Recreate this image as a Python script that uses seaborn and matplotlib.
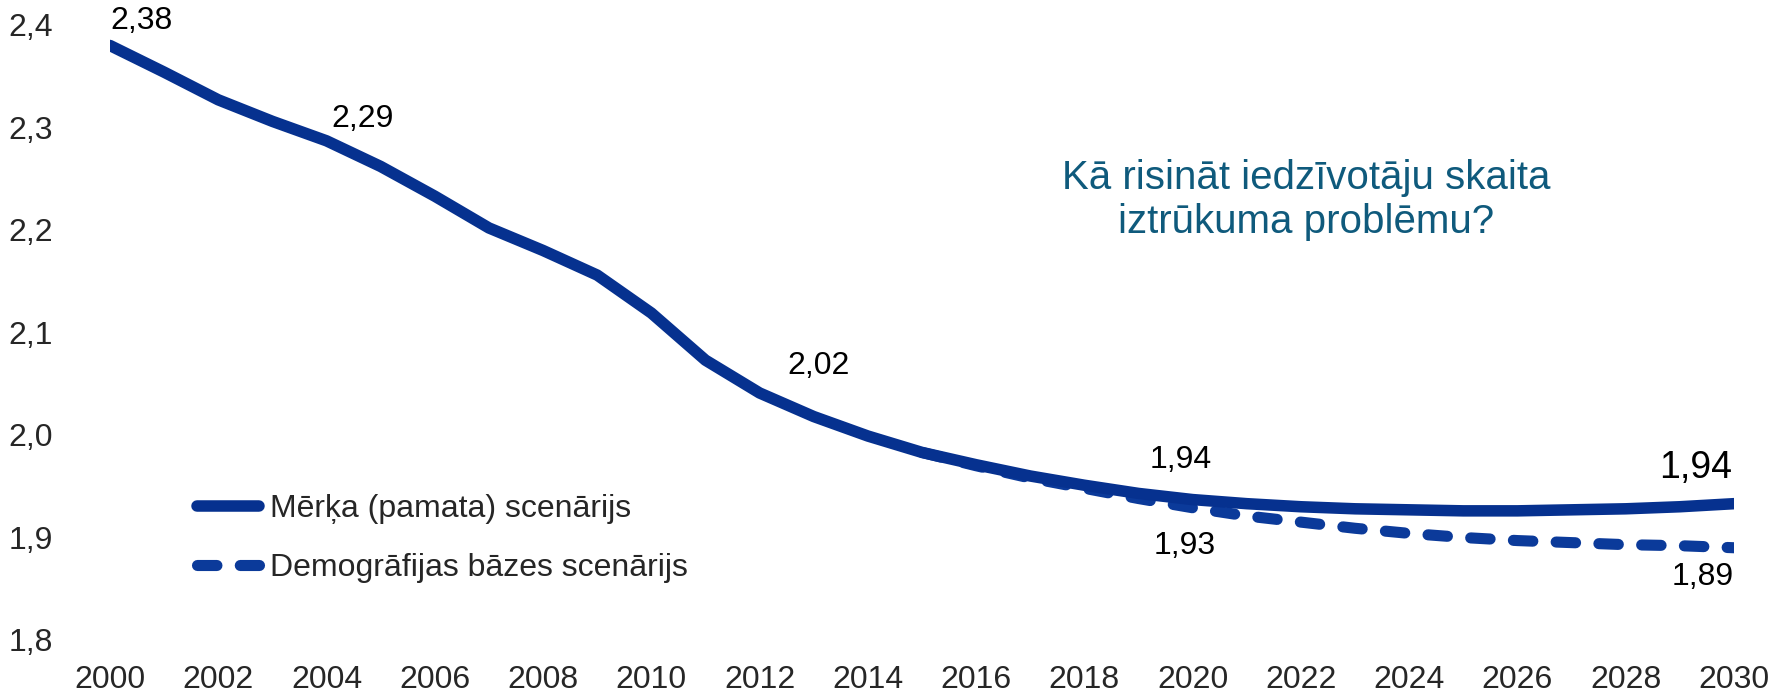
import matplotlib
matplotlib.use("Agg")
import matplotlib.pyplot as plt
import seaborn as sns
import numpy as np

# ---- data ----
years = list(range(2000, 2031))
target_scenario = [2.380, 2.354, 2.327, 2.306, 2.287, 2.262, 2.233, 2.202, 2.180, 2.156,
                   2.119, 2.073, 2.041, 2.018, 1.999, 1.983, 1.971, 1.960, 1.951, 1.943,
                   1.937, 1.933, 1.930, 1.928, 1.927, 1.926, 1.926, 1.927, 1.928, 1.930,
                   1.933]
base_years = list(range(2015, 2031))
base_scenario = [1.983, 1.970, 1.958, 1.948, 1.938, 1.929, 1.921, 1.915, 1.909, 1.904,
                 1.900, 1.897, 1.895, 1.893, 1.892, 1.890]
series_names = ["Mērķa (pamata) scenārijs", "Demogrāfijas bāzes scenārijs"]
label_years = [2000, 2004, 2013, 2020, 2020, 2030, 2030]
label_values = [2.38, 2.29, 2.02, 1.94, 1.93, 1.94, 1.89]
title_text = "Kā risināt iedzīvotāju skaita\niztrūkuma problēmu?"
y_ticks = [1.8, 1.9, 2.0, 2.1, 2.2, 2.3, 2.4]
x_ticks = list(range(2000, 2031, 2))

# ---- style ----
sns.set_theme(style="white")
plt.rcParams['font.family'] = ['Liberation Sans', 'DejaVu Sans']

fig = plt.figure(figsize=(17.77, 6.92), dpi=100)
ax = fig.add_axes([110/1777, 52/692, (1734-110)/1777, (667-52)/692])

solid_col = "#06318F"
dash_col = "#0B3A9A"
fs = 23

sns.lineplot(x=base_years, y=base_scenario, ax=ax, color=dash_col, lw=8.0,
             linestyle=(0, (1.75, 2.1)), dash_capstyle='round', label=series_names[1])
sns.lineplot(x=years, y=target_scenario, ax=ax, color=solid_col, lw=8.3,
             solid_capstyle='round', label=series_names[0])

ax.set_xlim(2000, 2030)
ax.set_ylim(1.8, 2.4)
ax.set_xticks(x_ticks)
ax.set_yticks(y_ticks)
ax.set_xticklabels([str(x) for x in x_ticks], fontsize=fs)
ax.set_yticklabels([f"{v:.1f}".replace('.', ',') for v in y_ticks], fontsize=fs)
ax.tick_params(axis='y', length=0, pad=41)
ax.tick_params(axis='x', length=0, pad=18)
for s in ax.spines.values():
    s.set_visible(False)
ax.grid(False)
ax.set_xlabel("")
ax.set_ylabel("")

# data labels (offsets in data units)
label_dx = [0.59, 0.67, 0.08, -0.22, -0.15, -0.7, -0.57]
label_dy = [0.024, 0.018, 0.047, 0.036, -0.038, 0.028, -0.029]
label_fs = [fs, fs, fs, fs, fs, 27, fs]
for yr, v, dx, dy, f in zip(label_years, label_values, label_dx, label_dy, label_fs):
    ax.text(yr + dx, v + dy, f"{v:.2f}".replace('.', ','), fontsize=f,
            ha='center', va='center', color='black', clip_on=False)

fig.text(1306/1777, 1 - 200/692, title_text, fontsize=29, color="#0F5A7C",
         ha='center', va='center', linespacing=1.22)

handles, labels = ax.get_legend_handles_labels()
order = [1, 0]
ax.legend([handles[i] for i in order], [labels[i] for i in order],
          loc='upper left', bbox_to_anchor=(197/1777, 1 - 494/692),
          bbox_transform=fig.transFigure, frameon=False, fontsize=fs,
          handlelength=1.94, handletextpad=0.35, labelspacing=0.9,
          borderpad=0, borderaxespad=0)

fig.savefig("out.png", dpi=100)
